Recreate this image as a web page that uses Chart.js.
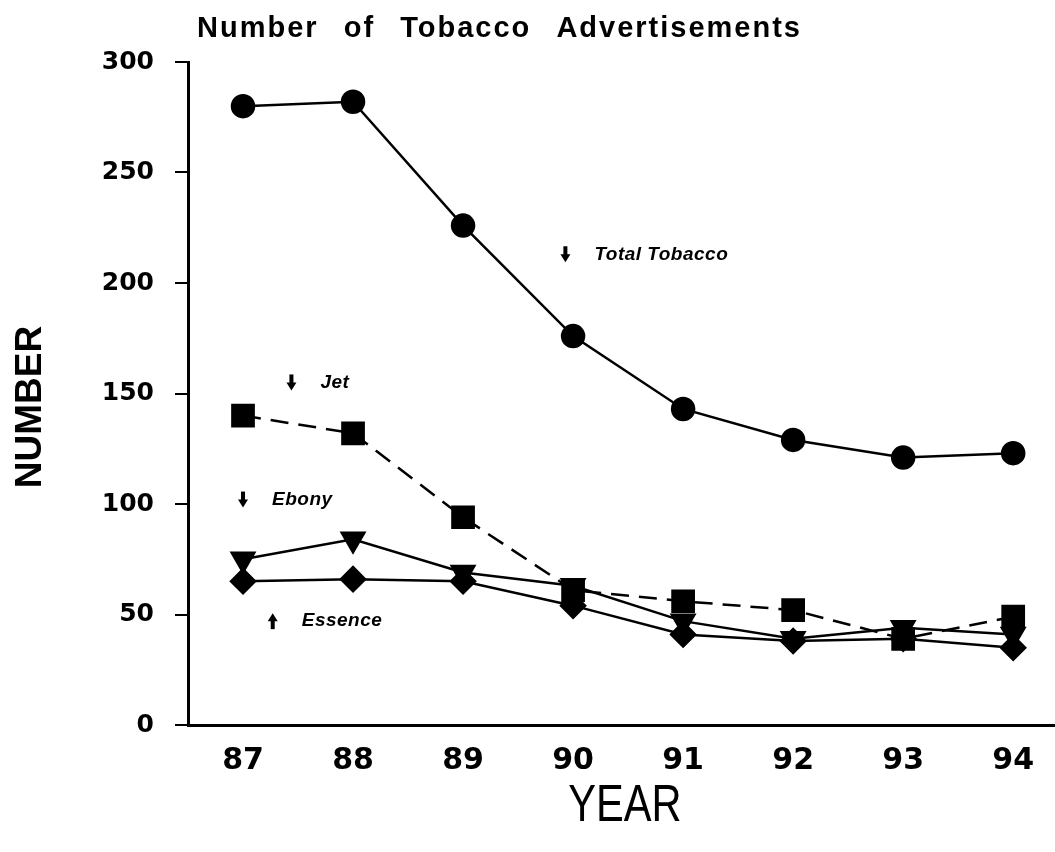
<!DOCTYPE html>
<html>
<head>
<meta charset="utf-8">
<script src="https://cdn.jsdelivr.net/npm/chart.js@4/dist/chart.umd.min.js"></script>
<style>
  html, body { margin: 0; padding: 0; background: #fff; overflow: hidden; }
  canvas { display: block; }
</style>
</head>
<body>
<canvas id="chart" width="1055" height="852"></canvas>
<script>
const YEARS = [87, 88, 89, 90, 91, 92, 93, 94];
const Y_TICKS = [0, 50, 100, 150, 200, 250, 300];

const TOTAL_TOBACCO = [280, 282, 226, 176, 143, 129, 121, 123];
const JET = [140, 132, 94, 61, 56, 52, 39, 49];
const EBONY = [75, 84, 69, 63, 47, 39, 44, 41];
const ESSENCE = [65, 66, 65, 54, 41, 38, 39, 35];

// series labels: arrow direction and where the arrow sits in data units
const NOTES = [
  { text: 'Total Tobacco', dir: 1, x: 89.93, y: 213 },
  { text: 'Jet', dir: 1, x: 87.44, y: 155 },
  { text: 'Ebony', dir: 1, x: 87.0, y: 102 },
  { text: 'Essence', dir: -1, x: 87.27, y: 47 }
];

const FONT = '"Liberation Sans", Arial, sans-serif';
const NUM_FONT = '"DejaVu Sans", "Liberation Sans", sans-serif';

function series(values) {
  return values.map((v, i) => ({x: YEARS[i], y: v}));
}

// small solid arrow, dir 1 = pointing down
function drawArrow(ctx, cx, cy, dir) {
  ctx.save();
  ctx.translate(cx, cy);
  ctx.scale(1, dir);
  ctx.fillRect(-2, -8, 4, 9);
  ctx.beginPath();
  ctx.moveTo(-5, 0);
  ctx.lineTo(5, 0);
  ctx.lineTo(0, 8);
  ctx.closePath();
  ctx.fill();
  ctx.restore();
}

const textPlugin = {
  id: 'texts',
  afterDraw(chart) {
    const ctx = chart.ctx;
    const {x, y} = chart.scales;
    ctx.save();
    ctx.fillStyle = '#000';

    // title, stretched over the same span as the original
    const title = 'Number of Tobacco Advertisements';
    ctx.font = `bold 29px ${FONT}`;
    ctx.textAlign = 'left';
    ctx.textBaseline = 'middle';
    ctx.letterSpacing = '2px';
    const natural = ctx.measureText(title).width;
    ctx.wordSpacing = Math.max(0, (605 - natural) / 3) + 'px';
    ctx.fillText(title, 197, 29);
    ctx.letterSpacing = '0px';
    ctx.wordSpacing = '0px';

    // y axis title
    ctx.save();
    ctx.translate(31, 407);
    ctx.rotate(-Math.PI / 2);
    ctx.textAlign = 'center';
    ctx.font = `bold 37px ${FONT}`;
    ctx.fillText('NUMBER', 0, 0);
    ctx.restore();

    // x axis title
    ctx.save();
    ctx.translate(625, 807);
    ctx.scale(0.8, 1);
    ctx.textAlign = 'center';
    ctx.font = `52px ${FONT}`;
    ctx.fillText('YEAR', 0, 0);
    ctx.restore();

    // series notes
    NOTES.forEach(n => {
      const px = x.getPixelForValue(n.x);
      const py = y.getPixelForValue(n.y);
      drawArrow(ctx, px, py, n.dir);
      ctx.textAlign = 'left';
      ctx.font = `italic bold 19px ${FONT}`;
      ctx.letterSpacing = '0.5px';
      ctx.fillText(n.text, px + 29, py);
      ctx.letterSpacing = '0px';
    });
    ctx.restore();
  }
};

const common = {
  borderColor: '#000',
  backgroundColor: '#000',
  pointBorderColor: '#000',
  pointBackgroundColor: '#000',
  borderWidth: 2.5,
  tension: 0,
  clip: false
};

new Chart(document.getElementById('chart'), {
  type: 'line',
  data: {
    datasets: [
      { ...common, label: 'Total Tobacco', data: series(TOTAL_TOBACCO),
        pointStyle: 'circle', pointRadius: 11 },
      { ...common, label: 'Jet', data: series(JET), borderDash: [18, 10],
        pointStyle: 'rect', pointRadius: 15 },
      { ...common, label: 'Ebony', data: series(EBONY),
        pointStyle: 'triangle', pointRotation: 180, pointRadius: 13 },
      { ...common, label: 'Essence', data: series(ESSENCE),
        pointStyle: 'rectRot', pointRadius: 12 }
    ]
  },
  options: {
    responsive: false,
    animation: false,
    layout: { autoPadding: false, padding: { top: 62, left: 0, right: 0, bottom: 0 } },
    scales: {
      x: {
        type: 'linear',
        min: 86.5,
        max: 94.38,
        afterFit: s => { s.height = 127; s.paddingRight = 0; s.paddingLeft = 0; },
        afterBuildTicks: s => { s.ticks = YEARS.map(v => ({value: v})); },
        grid: { display: true, drawOnChartArea: false, drawTicks: false },
        border: { display: true, color: '#000', width: 3 },
        ticks: {
          color: '#000',
          padding: 18,
          font: { family: NUM_FONT, size: 30, weight: 'bold' },
          callback: v => String(v)
        }
      },
      y: {
        min: 0,
        max: 300,
        afterFit: s => { s.width = 188; s.paddingTop = 0; s.paddingBottom = 0; },
        afterBuildTicks: s => { s.ticks = Y_TICKS.map(v => ({value: v})); },
        grid: { display: true, drawOnChartArea: false, drawTicks: true,
                tickLength: 13, color: '#000', lineWidth: 2 },
        border: { display: true, color: '#000', width: 3 },
        ticks: {
          color: '#000',
          padding: 21,
          font: { family: NUM_FONT, size: 25, weight: 'bold' }
        }
      }
    },
    plugins: {
      legend: { display: false },
      title: { display: false },
      tooltip: { enabled: false }
    }
  },
  plugins: [textPlugin]
});
</script>
</body>
</html>
